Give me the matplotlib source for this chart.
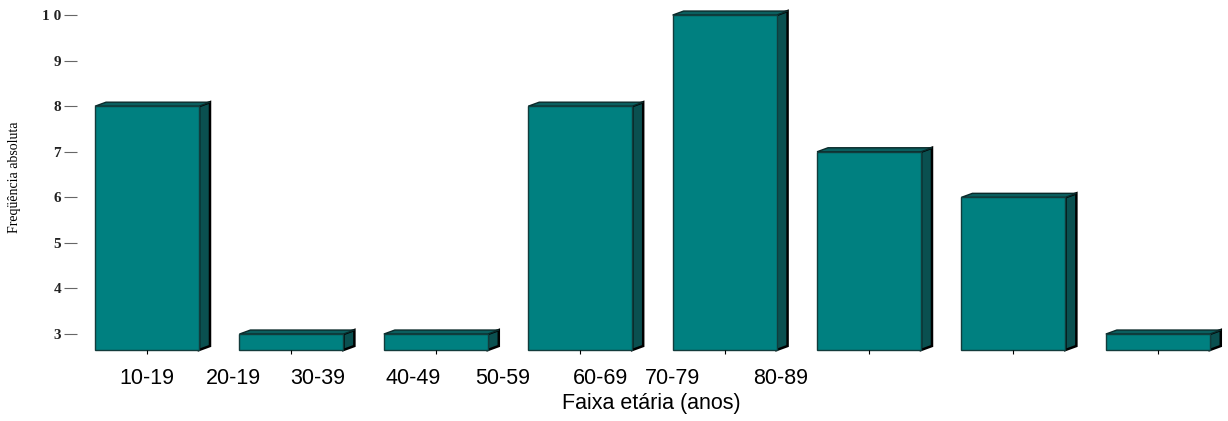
import matplotlib.pyplot as plt
from matplotlib.patches import Polygon, Rectangle

# Frequencia absoluta por faixa etaria (barras 3D)
valores = [8, 3, 3, 8, 10, 7, 6, 3]
rotulos_x = ["10-19", "20-19", "30-39", "40-49", "50-59", "60-69", "70-79", "80-89"]
pos_rotulos = [0.0, 0.60, 1.18, 1.84, 2.46, 3.14, 3.64, 4.39]
ticks_y = [3, 4, 5, 6, 7, 8, 9, 10]

base = 2.65
largura = 0.72
dx, dy = 0.076, 0.088

cor_frente = '#008080'
cor_topo = '#0b5f5f'
cor_lado = '#0a5050'

fig = plt.figure(figsize=(12.28, 4.21), dpi=100)
ax = fig.add_axes([77 / 1228, 71 / 421, 1 - 77 / 1228, 350 / 421])

for i, v in enumerate(valores):
    esq = i - largura / 2
    dir_ = i + largura / 2
    # face lateral
    ax.add_patch(Polygon([(dir_, base), (dir_ + dx, base + dy), (dir_ + dx, v + dy), (dir_, v)],
                         closed=True, facecolor=cor_lado, edgecolor='black', linewidth=1.8,
                         clip_on=False))
    # topo
    ax.add_patch(Polygon([(esq, v), (esq + dx, v + dy), (dir_ + dx, v + dy), (dir_, v)],
                         closed=True, facecolor=cor_topo, edgecolor='#0a2a2a', linewidth=1.0,
                         clip_on=False))
    # frente
    ax.add_patch(Rectangle((esq, base), largura, v - base, facecolor=cor_frente,
                           edgecolor='#123c3c', linewidth=1.0, clip_on=False))

ax.set_xlim(-0.485, 7.486)
ax.set_ylim(base, base + 350 / 45.57)

for s in ax.spines.values():
    s.set_visible(False)

ax.set_yticks(ticks_y)
ax.set_yticklabels([' '.join(str(t)) for t in ticks_y], fontfamily='Liberation Serif',
                   fontweight='bold', fontsize=11, color='#222222')
ax.tick_params(axis='y', length=9.5, width=0.8, color='#666666', pad=2)

ax.set_xticks(range(len(valores)))
ax.set_xticklabels([])
ax.tick_params(axis='x', length=3, width=0.8, color='black', direction='out')

trans = ax.get_xaxis_transform()
for p, r in zip(pos_rotulos, rotulos_x):
    ax.text(p, -0.08, r, transform=trans, ha='center', va='center',
            fontfamily='Liberation Sans', fontsize=15.5)

fig.text(651 / 1228, 1 - 404 / 421, 'Faixa etária (anos)', ha='center', va='center',
         fontfamily='Liberation Sans', fontsize=15.5)
fig.text(15 / 1228, 1 - 177 / 421, 'Freqüência absoluta', ha='center', va='center',
         rotation=90, fontfamily='Liberation Serif', fontsize=10)

fig.savefig('out.png', dpi=100)
